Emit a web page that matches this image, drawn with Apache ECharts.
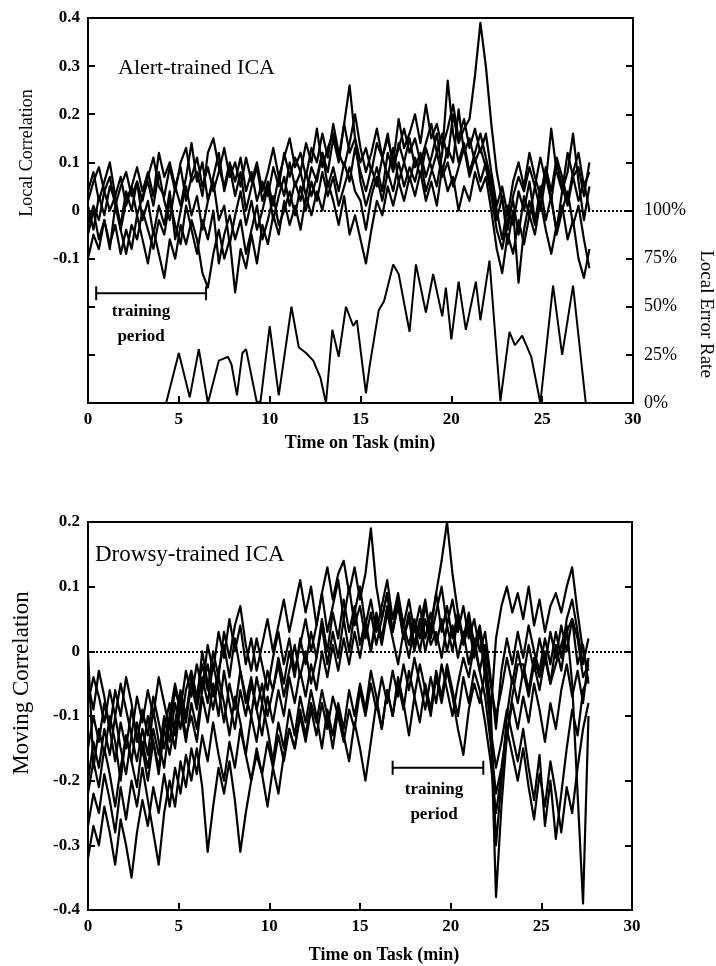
<!DOCTYPE html>
<html>
<head>
<meta charset="utf-8">
<script src="https://cdn.jsdelivr.net/npm/echarts@6.0.0/dist/echarts.min.js"></script>
<style>
  html, body { margin: 0; padding: 0; background: #fff; }
  #chart { width: 716px; height: 966px; }
</style>
</head>
<body>
<div id="chart"></div>
<script>
// time grid (min) shared by all correlation traces
const times = [0,0.3,0.6,0.9,1.2,1.5,1.8,2.1,2.4,2.7,
  3,3.3,3.6,3.9,4.2,4.5,4.8,5.1,5.4,5.7,
  6,6.3,6.6,6.9,7.2,7.5,7.8,8.1,8.4,8.7,
  9,9.3,9.6,9.9,10.2,10.5,10.8,11.1,11.4,11.7,
  12,12.3,12.6,12.9,13.2,13.5,13.8,14.1,14.4,14.7,
  15,15.3,15.6,15.9,16.2,16.5,16.8,17.1,17.4,17.7,
  18,18.3,18.6,18.9,19.2,19.5,19.8,20.1,20.4,20.7,
  21,21.3,21.6,21.9,22.2,22.5,22.8,23.1,23.4,23.7,
  24,24.3,24.6,24.9,25.2,25.5,25.8,26.1,26.4,26.7,
  27,27.3,27.6];

// Alert-trained ICA, local correlation
const alert1 = [0.02,0.06,0.09,0.04,0.07,0.01,0.05,0.08,0.03,0.06,
  0.02,0.07,0.11,0.05,0.03,0.09,0.04,0.10,0.13,0.06,
  0.08,0.03,0.12,0.15,0.09,0.05,0.10,0.06,0.11,0.04,
  0.08,0.02,0.06,0.03,0.09,0.05,0.12,0.07,0.11,0.08,
  0.14,0.10,0.17,0.09,0.13,0.16,0.11,0.18,0.12,0.15,
  0.10,0.13,0.08,0.14,0.11,0.16,0.09,0.13,0.17,0.12,
  0.15,0.10,0.14,0.18,0.12,0.16,0.11,0.20,0.14,0.17,
  0.19,0.28,0.39,0.30,0.18,0.08,0.02,-0.04,0.03,0.07,
  0.04,0.09,0.05,0.11,0.06,0.17,0.08,0.04,0.12,0.07,
  0.09,0.03,0.10];
const alert2 = [-0.03,0.01,-0.02,0.04,0.00,0.03,-0.04,0.02,0.05,-0.01,
  0.03,0.06,0.01,0.08,0.02,-0.02,0.05,0.01,0.07,0.14,
  0.06,0.10,0.02,0.07,0.12,0.04,0.09,0.03,0.08,0.00,
  0.05,0.09,0.02,0.06,0.01,0.07,0.03,0.10,0.05,0.08,
  0.03,0.09,0.06,0.12,0.08,0.15,0.10,0.18,0.26,0.15,
  0.06,0.01,0.05,0.09,0.04,0.12,0.08,0.14,0.10,0.06,
  0.11,0.07,0.13,0.09,0.05,0.12,0.27,0.16,0.10,0.14,
  0.08,0.12,0.16,0.11,0.06,0.00,-0.06,0.01,-0.03,0.04,
  0.00,0.06,-0.02,0.03,0.08,0.02,0.10,0.05,0.01,0.07,
  0.02,0.06,0.00];
const alert3 = [-0.10,-0.05,-0.08,-0.02,-0.07,-0.03,-0.09,-0.04,-0.08,-0.01,
  -0.06,-0.11,-0.04,-0.09,-0.14,-0.06,-0.10,-0.03,-0.07,-0.02,
  -0.06,-0.13,-0.16,-0.09,-0.04,-0.10,-0.06,-0.17,-0.08,-0.12,
  -0.05,-0.11,-0.03,-0.07,-0.01,-0.05,0.02,-0.03,0.01,-0.04,
  0.03,-0.01,0.04,0.00,0.06,0.02,-0.03,0.03,-0.05,-0.01,
  -0.06,-0.11,-0.04,0.02,-0.01,0.05,0.01,0.06,0.02,0.07,
  0.03,0.08,0.02,0.06,0.01,0.09,0.04,0.07,0.00,0.05,
  0.02,0.08,0.04,0.07,0.00,-0.08,-0.13,-0.05,-0.09,-0.02,
  -0.07,-0.01,-0.05,0.02,-0.04,-0.09,-0.03,0.01,-0.06,-0.02,
  -0.10,-0.14,-0.08];
const alert4 = [0.01,-0.04,0.03,-0.01,0.05,0.02,-0.03,0.04,0.00,0.06,
  -0.02,0.02,-0.05,0.01,-0.03,0.04,-0.06,0.00,0.05,-0.01,
  0.03,-0.04,0.02,0.06,-0.02,0.01,-0.07,-0.01,0.04,-0.03,
  0.02,-0.04,0.00,0.05,-0.02,0.03,0.07,0.01,0.06,0.02,
  0.08,0.03,0.07,0.12,0.05,0.09,0.04,0.10,0.06,0.13,
  0.08,0.04,0.09,0.05,0.11,0.07,0.13,0.06,0.10,0.15,
  0.09,0.12,0.07,0.11,0.16,0.08,0.13,0.10,0.21,0.12,
  0.15,0.10,0.13,0.09,0.03,-0.04,-0.08,-0.02,0.02,-0.05,
  0.03,-0.01,0.05,0.00,0.07,0.02,-0.04,0.04,0.08,0.16,
  0.06,-0.02,0.05];
const alert5 = [-0.05,0.00,-0.06,-0.02,-0.08,0.01,-0.04,-0.09,-0.03,-0.06,
  0.00,-0.04,-0.08,-0.02,-0.05,0.02,-0.03,-0.07,0.01,-0.04,
  -0.09,-0.02,-0.06,0.00,-0.11,-0.05,-0.01,-0.06,-0.02,-0.09,
  -0.04,0.01,-0.06,-0.02,0.03,-0.03,0.00,0.04,-0.01,0.05,
  0.00,0.06,0.02,0.08,0.03,0.07,0.01,0.05,0.09,0.04,
  0.02,-0.04,0.03,0.07,0.02,0.08,0.04,0.10,0.05,0.09,
  0.06,0.11,0.04,0.08,0.12,0.07,0.10,0.05,0.09,0.13,
  0.07,0.11,0.06,0.10,0.05,-0.02,0.03,-0.07,0.00,-0.15,
  -0.04,0.02,-0.03,0.05,-0.02,0.03,-0.05,0.00,0.04,-0.03,
  0.01,-0.06,-0.12];
const alert6 = [0.04,0.08,0.02,0.06,0.10,0.03,0.07,0.01,0.05,0.09,
  0.04,0.08,0.03,0.12,0.07,0.10,0.05,0.09,0.02,0.07,
  0.11,0.05,0.09,0.04,0.08,0.13,0.07,0.10,0.05,0.11,
  0.06,0.10,0.04,0.08,0.13,0.07,0.11,0.15,0.09,0.12,
  0.07,0.13,0.10,0.16,0.11,0.18,0.12,0.09,0.14,0.20,
  0.13,0.08,0.12,0.17,0.11,0.15,0.10,0.19,0.13,0.16,
  0.20,0.14,0.22,0.15,0.18,0.13,0.17,0.22,0.15,0.19,
  0.13,0.17,0.12,0.16,0.08,0.01,0.05,-0.01,0.06,0.10,
  0.05,0.12,0.07,0.03,0.09,0.04,0.11,0.07,0.02,0.08,
  0.12,0.05,0.08];

// local error rate (%), right axis of the top panel
const errTime = [0,4.3,5.0,5.6,6.1,6.6,7.2,7.7,7.9,8.2,
  8.5,8.7,9.3,9.5,10.0,10.5,11.2,11.6,12.0,12.4,
  12.8,13.1,13.45,13.8,14.2,14.6,14.8,15.3,15.5,16.0,
  16.3,16.8,17.1,17.2,17.7,18.05,18.6,19.0,19.5,19.7,
  20.0,20.4,20.8,21.35,21.6,22.1,22.7,23.2,23.5,23.9,
  24.4,24.9,25.6,26.1,26.7,27.4,27.6];
const errRate = [0,0,26,3,28,0,22,24,20,4,
  26,28,0,1,40,4,50,29,26,22,
  13,0,38,24,50,40,43,5,19,48,
  53,72,67,67,37,72,47,67,45,60,
  33,63,38,63,43,74,1,37,30,35,
  24,0,61,25,61,0,0];

// Drowsy-trained ICA, moving correlation
const drowsy1 = [-0.08,-0.04,-0.07,-0.11,-0.06,-0.10,-0.05,-0.09,-0.13,-0.07,
  -0.11,-0.06,-0.10,-0.04,-0.08,-0.12,-0.06,-0.09,-0.03,-0.07,
  -0.02,-0.06,0.01,-0.03,0.03,-0.01,0.05,0.00,0.04,-0.02,
  0.02,-0.03,0.01,0.05,0.00,0.04,0.08,0.03,0.07,0.11,
  0.06,0.10,0.04,0.09,0.13,0.08,0.12,0.14,0.09,0.13,
  0.08,0.12,0.19,0.10,0.05,0.09,0.03,0.07,0.02,0.06,
  0.01,0.05,0.00,0.04,0.09,0.03,0.07,0.02,0.06,0.01,
  0.04,-0.01,0.03,-0.04,-0.10,0.02,0.07,0.10,0.06,0.09,
  0.05,0.10,0.04,0.08,0.03,0.07,0.09,0.06,0.10,0.13,
  0.06,0.00,-0.03];
const drowsy2 = [-0.15,-0.10,-0.14,-0.08,-0.12,-0.17,-0.11,-0.15,-0.09,-0.13,
  -0.16,-0.10,-0.14,-0.19,-0.12,-0.08,-0.13,-0.07,-0.11,-0.05,
  -0.09,-0.04,-0.08,-0.02,-0.06,-0.11,-0.05,-0.09,-0.03,-0.07,
  -0.10,-0.04,-0.08,-0.03,-0.06,-0.01,-0.05,0.00,-0.04,0.02,
  -0.02,0.03,-0.01,0.05,0.00,0.06,0.02,0.08,0.03,0.07,
  0.01,0.05,0.00,0.06,0.02,0.07,0.03,0.08,0.04,0.01,
  0.05,0.02,0.07,0.03,0.09,0.14,0.20,0.12,0.06,0.02,
  0.05,0.01,0.03,-0.02,-0.10,-0.38,-0.24,-0.13,-0.07,-0.02,
  -0.02,-0.06,-0.01,-0.04,0.00,-0.05,0.01,-0.03,0.03,0.05,
  0.02,-0.04,-0.02];
const drowsy3 = [-0.20,-0.14,-0.18,-0.12,-0.16,-0.10,-0.15,-0.19,-0.13,-0.17,
  -0.12,-0.16,-0.09,-0.14,-0.18,-0.11,-0.15,-0.08,-0.13,-0.10,
  -0.14,-0.07,-0.11,-0.05,-0.10,-0.03,-0.08,-0.12,-0.06,-0.10,
  -0.05,-0.09,-0.13,-0.07,-0.11,-0.06,-0.10,-0.04,-0.08,-0.03,
  -0.07,-0.02,-0.06,0.00,-0.04,0.01,-0.03,0.02,-0.02,0.03,
  -0.01,0.04,0.00,0.05,0.01,0.06,0.02,-0.02,0.03,-0.01,
  0.04,0.00,0.05,0.01,0.03,-0.01,0.04,0.00,0.05,0.02,
  0.06,0.01,0.04,-0.01,-0.08,-0.30,-0.20,-0.10,-0.04,-0.08,
  -0.03,-0.07,-0.02,-0.06,-0.01,-0.05,-0.02,0.01,0.04,-0.05,
  -0.22,-0.39,-0.10];
const drowsy4 = [-0.32,-0.27,-0.30,-0.24,-0.28,-0.33,-0.26,-0.30,-0.35,-0.28,
  -0.23,-0.27,-0.21,-0.25,-0.19,-0.24,-0.18,-0.22,-0.16,-0.20,
  -0.15,-0.21,-0.31,-0.24,-0.18,-0.22,-0.17,-0.23,-0.31,-0.25,
  -0.20,-0.16,-0.19,-0.14,-0.18,-0.13,-0.17,-0.12,-0.15,-0.10,
  -0.14,-0.09,-0.13,-0.08,-0.12,-0.07,-0.10,-0.14,-0.09,-0.12,
  -0.06,-0.10,-0.05,-0.09,-0.04,-0.08,-0.03,-0.07,-0.02,-0.06,
  -0.01,-0.05,-0.09,-0.04,-0.08,-0.02,-0.06,-0.10,-0.05,-0.01,
  -0.04,0.01,-0.03,-0.07,-0.14,-0.22,-0.18,-0.12,-0.16,-0.20,
  -0.15,-0.21,-0.26,-0.19,-0.24,-0.17,-0.22,-0.28,-0.21,-0.25,
  -0.18,-0.12,-0.08];
const drowsy5 = [-0.27,-0.22,-0.25,-0.19,-0.23,-0.28,-0.21,-0.26,-0.20,-0.24,
  -0.18,-0.23,-0.28,-0.33,-0.25,-0.20,-0.24,-0.17,-0.21,-0.15,
  -0.19,-0.13,-0.17,-0.11,-0.16,-0.20,-0.14,-0.18,-0.12,-0.16,
  -0.20,-0.15,-0.19,-0.24,-0.18,-0.22,-0.16,-0.12,-0.15,-0.09,
  -0.13,-0.08,-0.11,-0.06,-0.10,-0.15,-0.09,-0.13,-0.17,-0.11,
  -0.15,-0.20,-0.14,-0.08,-0.12,-0.06,-0.10,-0.05,-0.09,-0.03,
  -0.07,-0.02,-0.06,-0.10,-0.04,-0.08,-0.03,-0.07,-0.12,-0.16,
  -0.09,-0.05,-0.08,-0.03,-0.12,-0.18,-0.14,-0.09,-0.13,-0.17,
  -0.12,-0.18,-0.23,-0.16,-0.27,-0.20,-0.29,-0.22,-0.15,-0.09,
  -0.13,-0.06,-0.04];
const drowsy6 = [-0.05,-0.09,-0.03,-0.07,-0.12,-0.06,-0.10,-0.04,-0.08,-0.14,
  -0.09,-0.13,-0.07,-0.11,-0.15,-0.10,-0.05,-0.09,-0.14,-0.08,
  -0.12,-0.06,-0.02,-0.07,-0.03,0.01,-0.04,0.02,-0.03,-0.08,
  -0.04,-0.09,-0.05,-0.10,-0.06,-0.02,-0.07,-0.03,0.01,-0.04,
  0.00,-0.05,-0.01,0.04,-0.02,0.03,-0.01,0.05,0.00,0.06,
  0.10,0.04,0.08,0.03,0.07,0.11,0.05,0.09,0.04,0.08,
  0.03,0.07,0.02,0.06,0.01,0.05,0.00,0.04,-0.01,0.03,
  -0.02,0.02,-0.03,0.01,-0.05,-0.10,-0.06,-0.01,-0.05,0.00,
  -0.04,0.01,-0.03,0.02,-0.02,0.03,-0.01,0.04,0.00,0.05,
  -0.02,0.01,-0.05];
const drowsy7 = [0.00,-0.18,-0.12,-0.16,-0.10,-0.14,-0.20,-0.13,-0.17,-0.11,
  -0.15,-0.20,-0.14,-0.18,-0.12,-0.16,-0.11,-0.06,-0.10,-0.04,
  -0.08,0.00,-0.05,-0.09,-0.04,-0.08,-0.13,-0.07,-0.11,-0.16,
  -0.10,-0.14,-0.08,-0.12,-0.17,-0.11,-0.15,-0.09,-0.13,-0.07,
  -0.11,-0.06,-0.10,-0.15,-0.09,-0.13,-0.08,-0.12,-0.06,-0.10,
  -0.05,-0.09,-0.03,-0.07,-0.12,-0.06,-0.10,-0.04,-0.08,-0.13,
  -0.07,-0.11,-0.05,-0.09,-0.03,-0.07,-0.02,-0.06,-0.10,-0.04,
  -0.08,-0.03,-0.06,-0.11,-0.17,-0.25,-0.19,-0.13,-0.08,-0.12,
  -0.07,-0.11,-0.05,-0.09,-0.14,-0.08,-0.12,-0.06,-0.02,-0.07,
  -0.03,-0.08,-0.01];
const drowsy8 = [-0.22,-0.17,-0.21,-0.15,-0.19,-0.24,-0.18,-0.13,-0.17,-0.21,
  -0.14,-0.18,-0.12,-0.16,-0.10,-0.14,-0.08,-0.12,-0.06,-0.03,
  -0.07,-0.02,-0.06,0.00,-0.04,0.03,-0.01,0.04,0.07,0.01,
  -0.03,0.02,-0.02,-0.06,-0.01,0.03,-0.02,0.02,-0.03,0.01,
  0.05,0.00,0.04,0.09,0.03,0.07,0.11,0.05,0.10,0.04,
  0.07,0.02,0.06,0.01,0.05,0.09,0.03,0.08,0.02,0.05,
  0.00,0.04,0.08,0.02,0.06,0.10,0.04,0.08,0.03,0.07,
  0.02,0.05,0.00,0.03,-0.04,-0.12,-0.03,0.02,-0.02,0.03,
  -0.01,0.04,0.00,-0.03,0.02,-0.02,0.03,-0.01,0.05,0.08,
  0.03,-0.02,0.02];

// training periods (min) and the level where the bracket sits
const trainAlert = [0.45, 6.5];
const trainAlertLevel = -0.172;
const trainDrowsy = [16.8, 21.8];
const trainDrowsyLevel = -0.18;

const FONT = '"Liberation Serif", "Times New Roman", serif';
const chart = echarts.init(document.getElementById("chart"));

function fmt(v) {
  const r = Math.round(v * 10) / 10;
  return r === 0 ? "0" : r.toFixed(1);
}

function traceSeries(ys, panel) {
  return {
    type: "line",
    xAxisIndex: panel,
    yAxisIndex: panel === 0 ? 0 : 2,
    data: times.map((t, i) => [t, ys[i]]),
    symbol: "none",
    silent: true,
    lineStyle: { color: "#000", width: 2.2, join: "round" }
  };
}

function bracketSeries(span, level, panel) {
  return {
    type: "line",
    xAxisIndex: panel,
    yAxisIndex: panel === 0 ? 0 : 2,
    data: span.map(t => [t, level]),
    symbol: "rect",
    symbolSize: [2, 14],
    showSymbol: true,
    silent: true,
    itemStyle: { color: "#000" },
    lineStyle: { color: "#000", width: 2 }
  };
}

// dotted zero reference
const zeroLine = {
  silent: true,
  symbol: "none",
  label: { show: false },
  lineStyle: { type: "dotted", color: "#000", width: 2 },
  data: [{ yAxis: 0 }]
};

const tickStyle = { inside: true, length: 7, lineStyle: { color: "#000", width: 2 } };
const lineBlack = { onZero: false, lineStyle: { color: "#000", width: 2 } };
const labelBold = { color: "#000", fontFamily: FONT, fontSize: 17, fontWeight: "bold" };

function xAxisFor(grid) {
  return {
    gridIndex: grid, type: "value", min: 0, max: 30, interval: 5,
    axisLine: lineBlack, axisTick: tickStyle, splitLine: { show: false },
    axisLabel: Object.assign({ margin: 8 }, labelBold)
  };
}

const topSeries = [alert1, alert2, alert3, alert4, alert5, alert6].map(a => traceSeries(a, 0));
topSeries[0].markLine = zeroLine;
const bottomSeries = [drowsy1, drowsy2, drowsy3, drowsy4, drowsy5, drowsy6, drowsy7, drowsy8].map(a => traceSeries(a, 1));
bottomSeries[0].markLine = zeroLine;

const errSeries = {
  type: "line",
  xAxisIndex: 0,
  yAxisIndex: 1,
  data: errTime.map((t, i) => [t, errRate[i]]),
  symbol: "none",
  silent: true,
  lineStyle: { color: "#000", width: 2 }
};

function txt(x, y, text, size, opts) {
  opts = opts || {};
  return {
    type: "text", x: x, y: y, rotation: opts.rot || 0, silent: true,
    style: {
      text: text,
      font: (opts.bold ? "bold " : "") + size + "px " + FONT,
      fill: "#000",
      textAlign: opts.align || "center",
      textVerticalAlign: "middle"
    }
  };
}

chart.setOption({
  animation: false,
  backgroundColor: "#fff",
  grid: [
    { left: 88, top: 18, width: 545, height: 385, show: true, borderColor: "#000", borderWidth: 2 },
    { left: 88, top: 522, width: 544, height: 388, show: true, borderColor: "#000", borderWidth: 2 }
  ],
  xAxis: [xAxisFor(0), xAxisFor(1)],
  yAxis: [
    {
      gridIndex: 0, type: "value", min: -0.4, max: 0.4, interval: 0.1, position: "left",
      axisLine: lineBlack, axisTick: tickStyle, splitLine: { show: false },
      axisLabel: Object.assign({ margin: 8, formatter: v => (v < -0.15 ? "" : fmt(v)) }, labelBold)
    },
    {
      gridIndex: 0, type: "value", min: 0, max: 200, interval: 25, position: "right",
      axisLine: lineBlack, axisTick: tickStyle, splitLine: { show: false },
      axisLabel: {
        margin: 11, color: "#000", fontFamily: FONT, fontSize: 18,
        formatter: v => (v <= 100 ? v + "%" : "")
      }
    },
    {
      gridIndex: 1, type: "value", min: -0.4, max: 0.2, interval: 0.1, position: "left",
      axisLine: lineBlack, axisTick: tickStyle, splitLine: { show: false },
      axisLabel: Object.assign({ margin: 8, formatter: fmt }, labelBold)
    },
    {
      gridIndex: 1, type: "value", min: -0.4, max: 0.2, interval: 0.1, position: "right",
      axisLine: lineBlack, axisTick: tickStyle, splitLine: { show: false },
      axisLabel: { show: false }
    }
  ],
  series: [
    ...topSeries,
    errSeries,
    bracketSeries(trainAlert, trainAlertLevel, 0),
    ...bottomSeries,
    bracketSeries(trainDrowsy, trainDrowsyLevel, 1)
  ],
  graphic: [
    txt(27, 153, "Local Correlation", 18, { rot: Math.PI / 2 }),
    txt(706, 314, "Local Error Rate", 19, { rot: -Math.PI / 2 }),
    txt(118, 68, "Alert-trained ICA", 22, { align: "left" }),
    txt(141, 312, "training", 17, { bold: true }),
    txt(141, 337, "period", 17, { bold: true }),
    txt(360, 443, "Time on Task (min)", 18, { bold: true }),
    txt(22, 683, "Moving Correlation", 23, { rot: Math.PI / 2 }),
    txt(95, 555, "Drowsy-trained ICA", 23, { align: "left" }),
    txt(434, 790, "training", 17, { bold: true }),
    txt(434, 815, "period", 17, { bold: true }),
    txt(384, 955, "Time on Task (min)", 18, { bold: true })
  ]
});

window.addEventListener("resize", () => chart.resize());
</script>
</body>
</html>
